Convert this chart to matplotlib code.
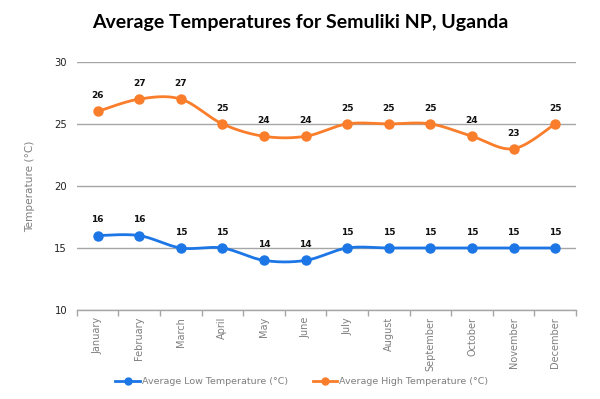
import numpy as np
import matplotlib
matplotlib.use('Agg')
import matplotlib.pyplot as plt

months = ['January', 'February', 'March', 'April', 'May', 'June', 'July',
          'August', 'September', 'October', 'November', 'December']
low_temps = [16, 16, 15, 15, 14, 14, 15, 15, 15, 15, 15, 15]
high_temps = [26, 27, 27, 25, 24, 24, 25, 25, 25, 24, 23, 25]
y_ticks = [10, 15, 20, 25, 30]

BLUE = '#1c76e6'
ORANGE = '#f97d2a'
GRID = '#a6a6a6'
GRAY_TEXT = '#7f7f7f'


# Excel-like smoothed line: cubic bezier between points, control points from neighbours
def smooth(xs, ys, n=30):
    xs = np.asarray(xs, float)
    ys = np.asarray(ys, float)
    px = np.concatenate([[xs[0]], xs, [xs[-1]]])
    py = np.concatenate([[ys[0]], ys, [ys[-1]]])
    out_x, out_y = [], []
    t = np.linspace(0, 1, n)
    for i in range(1, len(px) - 2):
        p0 = np.array([px[i], py[i]])
        p3 = np.array([px[i + 1], py[i + 1]])
        c1 = p0 + (p3 - np.array([px[i - 1], py[i - 1]])) / 6
        c2 = p3 - (np.array([px[i + 2], py[i + 2]]) - p0) / 6
        pts = ((1 - t) ** 3)[:, None] * p0 + (3 * (1 - t) ** 2 * t)[:, None] * c1 \
            + (3 * (1 - t) * t ** 2)[:, None] * c2 + (t ** 3)[:, None] * p3
        out_x.extend(pts[:, 0])
        out_y.extend(pts[:, 1])
    return out_x, out_y


fig = plt.figure(figsize=(6, 3.99), dpi=100)
ax = fig.add_axes([0.128, 0.223, 0.832, 0.622])

x = np.arange(len(months))
for vals, color, name in [(low_temps, BLUE, 'Average Low Temperature (°C)'),
                          (high_temps, ORANGE, 'Average High Temperature (°C)')]:
    sx, sy = smooth(x, vals)
    ax.plot(sx, sy, color=color, lw=2.0, zorder=3, solid_capstyle='round')
    ax.plot(x, vals, 'o', color=color, ms=6.5, zorder=4)
    ax.plot([], [], color=color, lw=2.0, marker='o', ms=5, label=name)
    for xi, v in zip(x, vals):
        ax.annotate(str(v), (xi, v), xytext=(0, 8), textcoords='offset points',
                    ha='center', va='bottom', fontsize=6.5, fontweight='bold',
                    color='#111111', zorder=5)

ax.set_xlim(-0.5, len(months) - 0.5)
ax.set_ylim(10, 30)
ax.set_yticks(y_ticks)
ax.yaxis.grid(True, color=GRID, lw=1)
ax.set_axisbelow(True)
ax.tick_params(axis='y', length=0, pad=7, labelsize=7.2, labelcolor='#222222')

ax.set_xticks(x)
ax.set_xticklabels(months, rotation=90, fontsize=7, color=GRAY_TEXT)
ax.tick_params(axis='x', length=0, pad=5)
ax.set_xticks(np.arange(-0.5, len(months)), minor=True)
ax.tick_params(axis='x', which='minor', length=4, color=GRID, width=1)

for s in ['top', 'right', 'left']:
    ax.spines[s].set_visible(False)
ax.spines['bottom'].set_color(GRID)
ax.spines['bottom'].set_linewidth(1)

ax.set_ylabel('Temperature (°C)', fontsize=7.6, color=GRAY_TEXT, labelpad=14)

fig.suptitle('Average Temperatures for Semuliki NP, Uganda', x=0.5, y=0.943,
             fontsize=14, fontweight='bold', family='Lato', va='center')

leg = fig.legend(loc='center', bbox_to_anchor=(0.503, 0.043), ncol=2, frameon=False,
                 fontsize=6.8, handlelength=2.6, handletextpad=0.2, columnspacing=2.6)
for t in leg.get_texts():
    t.set_color(GRAY_TEXT)

fig.savefig('out.png', dpi=100)
